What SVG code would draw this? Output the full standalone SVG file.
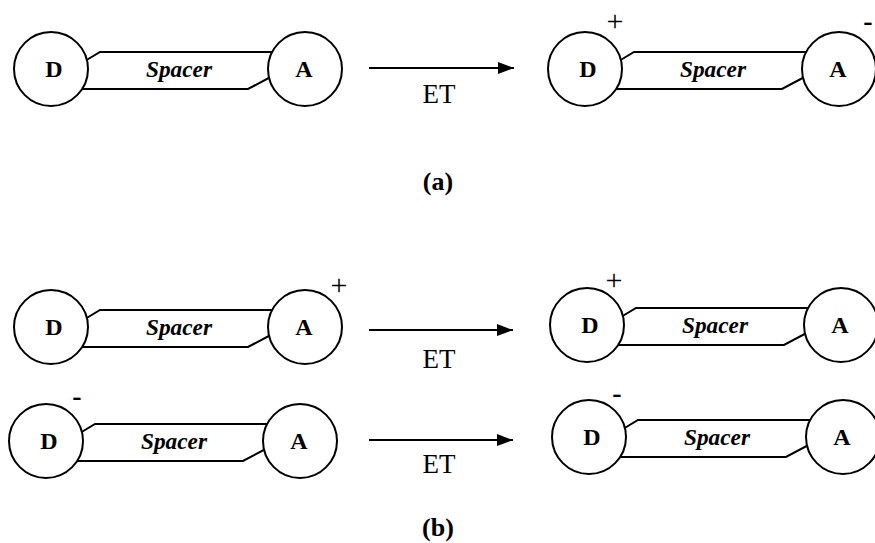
<svg xmlns="http://www.w3.org/2000/svg" width="875" height="543" viewBox="0 0 875 543">
<style>
.ln{fill:none;stroke:#000;stroke-width:2}
.cir{fill:#fff;stroke:#000;stroke-width:2}
.lbl{font-family:"Liberation Serif","Times New Roman",serif;font-weight:bold;font-size:24px;text-anchor:middle;fill:#000}
.sp{font-family:"Liberation Serif","Times New Roman",serif;font-weight:bold;font-style:italic;font-size:24px;text-anchor:middle;fill:#000}
.et{font-family:"Liberation Serif","Times New Roman",serif;font-size:27px;text-anchor:middle;fill:#000}
.pl{font-family:"Liberation Serif","Times New Roman",serif;font-size:30px;text-anchor:middle;fill:#000}
.mi{font-family:"Liberation Serif","Times New Roman",serif;font-weight:bold;font-size:28px;text-anchor:middle;fill:#000}
.cap{font-family:"Liberation Serif","Times New Roman",serif;font-weight:bold;font-size:26px;text-anchor:middle;fill:#000}
</style>
<defs>
<marker id="ah" markerWidth="16" markerHeight="12" refX="16" refY="6" orient="auto" markerUnits="userSpaceOnUse">
<path d="M0,0 L16,6 L0,12 Z" fill="#000"/>
</marker>
<g id="mol">
<polyline class="ln" points="80,64 100,52 285,52"/>
<polyline class="ln" points="75,89 248,89 280,72"/>
<circle class="cir" cx="51" cy="69" r="37"/>
<circle class="cir" cx="305" cy="69" r="37"/>
<text class="lbl" x="54" y="77">D</text>
<text class="lbl" x="304" y="77">A</text>
<text class="sp" x="179" y="77" textLength="66" lengthAdjust="spacingAndGlyphs">Spacer</text>
</g>
</defs>
<g id="mol-a-left"><use href="#mol"/></g>
<g id="mol-a-right"><use href="#mol" transform="translate(534,0)"/>
<text class="pl" x="615" y="31">+</text>
<text class="mi" x="868" y="30">-</text>
</g>
<g id="mol-b1-left"><use href="#mol" transform="translate(0,258)"/>
<text class="pl" x="339" y="295">+</text>
</g>
<g id="mol-b1-right"><use href="#mol" transform="translate(536,256)"/>
<text class="pl" x="614" y="290">+</text>
</g>
<g id="mol-b2-left"><use href="#mol" transform="translate(-5,372)"/>
<text class="mi" x="77" y="405">-</text>
</g>
<g id="mol-b2-right"><use href="#mol" transform="translate(538,368)"/>
<text class="mi" x="617" y="402">-</text>
</g>
<g id="connectors">
<line class="ln" x1="369" y1="68" x2="514" y2="68" marker-end="url(#ah)"/>
<line class="ln" x1="369" y1="330" x2="513" y2="330" marker-end="url(#ah)"/>
<line class="ln" x1="369" y1="440" x2="513" y2="440" marker-end="url(#ah)"/>
<text class="et" x="439" y="103">ET</text>
<text class="et" x="439" y="368">ET</text>
<text class="et" x="439" y="473">ET</text>
</g>
<text class="cap" x="438" y="190">(a)</text>
<text class="cap" x="438" y="536">(b)</text>
</svg>
